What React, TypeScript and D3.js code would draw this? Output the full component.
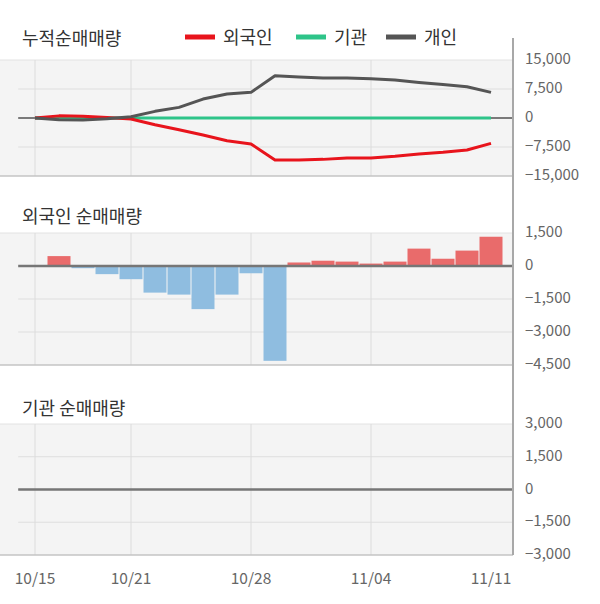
import React from "react";
import * as d3 from "d3";

const dates = ["10/15","10/16","10/17","10/18","10/21","10/22","10/23","10/24","10/25","10/28","10/29","10/30","10/31","11/01","11/04","11/05","11/06","11/07","11/08","11/11"];
const labelDates = ["10/15","10/21","10/28","11/04","11/11"];
const gridDates = ["10/15","10/21","10/28","11/04"];

const foreignCum = [0, 550, 450, 100, -250, -1750, -3030, -4400, -5870, -6720, -10860, -10860, -10700, -10340, -10340, -9920, -9310, -8880, -8280, -6570];
const instCum = [0, 0, 0, 0, 0, 0, 0, 0, 0, 0, 0, 0, 0, 0, 0, 0, 0, 0, 0, 0];
const indivCum = [0, -440, -500, -170, 340, 1720, 2750, 4900, 6200, 6630, 10940, 10600, 10340, 10340, 10160, 9820, 9200, 8690, 8090, 6630];

const foreignDaily = [0, 450, -100, -370, -600, -1210, -1300, -1960, -1300, -330, -4310, 160, 240, 200, 110, 200, 790, 330, 700, 1330];
const instDaily = [0, 0, 0, 0, 0, 0, 0, 0, 0, 0, 0, 0, 0, 0, 0, 0, 0, 0, 0, 0];

const cumTicks = [15000, 7500, 0, -7500, -15000];
const foreignTicks = [1500, 0, -1500, -3000, -4500];
const instTicks = [3000, 1500, 0, -1500, -3000];

const seriesNames = ["외국인", "기관", "개인"];
const seriesColors = ["#e8141c", "#2ec489", "#555555"];

const FONT = "'Noto Sans CJK KR', 'Noto Sans', sans-serif";
const PLOT_R = 513;
const fmt = d3.format(",");

const x = d3.scaleLinear().domain([0, dates.length - 1]).range([35, 491]);
const xd = (d: string) => x(dates.indexOf(d));
const BASE_L = x(-0.7);

function Panel({ y, ticks, top, bottom }: { y: d3.ScaleLinear<number, number>; ticks: number[]; top: number; bottom: number }) {
  return (
    <g>
      <rect x={0} y={top} width={PLOT_R} height={bottom - top} fill="#f4f4f4" />
      <line x1={0} x2={PLOT_R} y1={top} y2={top} stroke="#e2e2e2" />
      {ticks.slice(1, -1).map((t) => (
        <line key={t} x1={BASE_L} x2={PLOT_R} y1={y(t)} y2={y(t)} stroke="#dedede" strokeWidth={1} />
      ))}
      {gridDates.map((d) => (
        <line key={d} x1={xd(d)} x2={xd(d)} y1={top} y2={bottom} stroke="#dcdcdc" strokeWidth={1} />
      ))}
      <line x1={0} x2={PLOT_R} y1={bottom} y2={bottom} stroke="#c4c4c4" strokeWidth={1.5} />
      {ticks.map((t) => (
        <text key={t} x={525} y={y(t)} dominantBaseline="middle" fontSize={15} fill="#666" fontFamily={FONT}>
          {fmt(t)}
        </text>
      ))}
    </g>
  );
}

function Bars({ y, values }: { y: d3.ScaleLinear<number, number>; values: number[] }) {
  return (
    <g>
      {values.map((v, i) =>
        v === 0 ? null : (
          <rect
            key={i}
            x={x(i) - 11.5}
            width={23}
            y={Math.min(y(v), y(0))}
            height={Math.abs(y(v) - y(0))}
            fill={v > 0 ? "#e96b6b" : "#8fbde0"}
          />
        )
      )}
      <line x1={BASE_L} x2={PLOT_R} y1={y(0)} y2={y(0)} stroke="#767676" strokeWidth={2.5} />
    </g>
  );
}

export default function App() {
  const yCum = d3.scaleLinear().domain([-15000, 15000]).range([176, 60]);
  const yFor = d3.scaleLinear().domain([-4500, 1500]).range([365, 233]);
  const yInst = d3.scaleLinear().domain([-3000, 3000]).range([555, 424]);

  const line = d3.line<number>().x((_, i) => x(i)).y((v) => yCum(v));
  const cumSeries = [foreignCum, instCum, indivCum];
  const drawOrder = [1, 0, 2];

  const legendX = [185, 296, 386];

  return (
    <svg width={600} height={604} style={{ position: "absolute", left: 0, top: 0, background: "#fff" }}>
      {/* Titles */}
      <text x={22} y={40} dominantBaseline="middle" fontSize={18} fill="#333" fontFamily={FONT}>누적순매매량</text>
      <text x={22} y={218} dominantBaseline="middle" fontSize={18} fill="#333" fontFamily={FONT}>외국인 순매매량</text>
      <text x={22} y={410} dominantBaseline="middle" fontSize={18} fill="#333" fontFamily={FONT}>기관 순매매량</text>

      {/* Legend */}
      {seriesNames.map((n, i) => (
        <g key={n}>
          <line x1={legendX[i]} x2={legendX[i] + 30} y1={37} y2={37} stroke={seriesColors[i]} strokeWidth={5} />
          <text x={legendX[i] + 38} y={39} dominantBaseline="middle" fontSize={18} fill="#333" fontFamily={FONT}>{n}</text>
        </g>
      ))}

      {/* Top panel */}
      <Panel y={yCum} ticks={cumTicks} top={60} bottom={176} />
      <line x1={BASE_L} x2={PLOT_R} y1={yCum(0)} y2={yCum(0)} stroke="#7a7a7a" strokeWidth={2} />
      {drawOrder.map((k) => (
        <path key={k} d={line(cumSeries[k]) || ""} fill="none" stroke={seriesColors[k]} strokeWidth={3} strokeLinejoin="round" />
      ))}

      {/* Middle panel */}
      <Panel y={yFor} ticks={foreignTicks} top={233} bottom={365} />
      <Bars y={yFor} values={foreignDaily} />

      {/* Bottom panel */}
      <Panel y={yInst} ticks={instTicks} top={424} bottom={555} />
      <Bars y={yInst} values={instDaily} />

      {/* Right axis line */}
      <line x1={PLOT_R} x2={PLOT_R} y1={38} y2={555} stroke="#a8a8a8" strokeWidth={2} />

      {/* X labels */}
      {labelDates.map((d) => (
        <text key={d} x={xd(d)} y={580} textAnchor="middle" dominantBaseline="middle" fontSize={15.5} fill="#666" fontFamily={FONT}>
          {d}
        </text>
      ))}
    </svg>
  );
}
